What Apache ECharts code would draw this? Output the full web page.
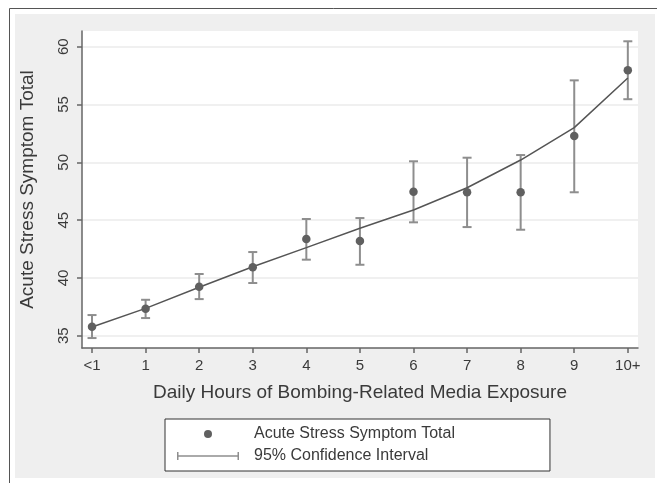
<!DOCTYPE html>
<html>
<head>
<meta charset="utf-8">
<script src="https://cdn.jsdelivr.net/npm/echarts@6/dist/echarts.min.js"></script>
<style>html,body{margin:0;padding:0;background:#fff}#c{width:657px;height:483px}</style>
</head>
<body>
<div id="c"></div>
<script>
const xLabels = ['<1', '1', '2', '3', '4', '5', '6', '7', '8', '9', '10+'];
const xPositions = [0, 1, 2, 3, 4, 5, 6, 7, 8, 9, 10];
const meanValues = [35.78, 37.34, 39.24, 40.92, 43.37, 43.19, 47.46, 47.41, 47.41, 52.27, 57.96];
const ciLow = [34.80, 36.53, 38.17, 39.56, 41.58, 41.14, 44.81, 44.40, 44.17, 47.41, 55.46];
const ciHigh = [36.79, 38.11, 40.34, 42.24, 45.10, 45.18, 50.09, 50.40, 50.63, 57.09, 60.47];
const fittedValues = [35.75, 37.37, 39.20, 40.97, 42.62, 44.30, 45.88, 47.80, 50.20, 53.00, 57.30];
const yTicks = [35, 40, 45, 50, 55, 60];

const FONT = 'Liberation Sans, Arial, sans-serif';
const axisColor = '#666666';
const textColor = '#3a3a3a';
const ciColor = '#8e8e8e';
const dotColor = '#606060';

const chart = echarts.init(document.getElementById('c'), null, {renderer: 'canvas'});
const option = {
  animation: false,
  backgroundColor: '#ffffff',
  textStyle: {fontFamily: FONT},
  graphic: [
    {type: 'rect', z: -100, silent: true, shape: {x: 9.5, y: 8.5, width: 700, height: 500},
     style: {fill: '#ffffff', stroke: '#555555', lineWidth: 1}},
    {type: 'rect', z: -99, silent: true, shape: {x: 15, y: 14, width: 640, height: 464},
     style: {fill: '#efefef'}}
  ],
  grid: {left: 82, top: 31, width: 556, height: 317, show: true, backgroundColor: '#ffffff', borderWidth: 0, containLabel: false},
  xAxis: {
    type: 'value', min: -0.187, max: 10.19,
    name: 'Daily Hours of Bombing-Related Media Exposure',
    nameLocation: 'middle', nameGap: 35,
    nameTextStyle: {fontSize: 19, color: textColor, fontFamily: FONT},
    axisLine: {show: true, onZero: false, lineStyle: {color: axisColor, width: 1.5}},
    axisTick: {show: true, length: 5, customValues: xPositions, lineStyle: {color: axisColor, width: 1.5}},
    axisLabel: {customValues: xPositions, margin: 10, fontSize: 15, color: textColor, fontFamily: FONT,
      formatter: v => xLabels[Math.round(v)]},
    splitLine: {show: false}
  },
  yAxis: {
    type: 'value', min: 33.94, max: 61.36,
    name: 'Acute Stress Symptom Total',
    nameLocation: 'middle', nameGap: 45, nameRotate: 90,
    nameTextStyle: {fontSize: 19, color: textColor, fontFamily: FONT},
    axisLine: {show: true, onZero: false, lineStyle: {color: axisColor, width: 1.5}},
    axisTick: {show: true, length: 5, customValues: yTicks, lineStyle: {color: axisColor, width: 1.5}},
    axisLabel: {customValues: yTicks, rotate: 90, margin: 11, fontSize: 15, color: textColor, fontFamily: FONT},
    splitLine: {show: true, lineStyle: {color: '#ebebeb', width: 1.5}}
  },
  legend: {
    left: 165, top: 419, orient: 'vertical',
    backgroundColor: '#ffffff', borderColor: '#333333', borderWidth: 1, borderRadius: 0,
    padding: [7, 95, 7, 12],
    itemWidth: 62, itemHeight: 8, itemGap: 6,
    selectedMode: false,
    textStyle: {fontSize: 16, color: textColor, fontFamily: FONT, lineHeight: 16, padding: [0, 0, 0, 10]},
    data: [
      {name: 'Acute Stress Symptom Total', icon: 'circle'},
      {name: '95% Confidence Interval', icon: 'path://M0,3.25h62v1.5h-62z M0,0h1.5v8h-1.5z M60.5,0h1.5v8h-1.5z'}
    ]
  },
  series: [
    {
      name: '95% Confidence Interval', type: 'custom', z: 2,
      itemStyle: {color: ciColor},
      data: xPositions.map((x, i) => [x, ciLow[i], ciHigh[i]]),
      encode: {x: 0, y: [1, 2]},
      renderItem: function (params, api) {
        const x = api.value(0);
        const top = api.coord([x, api.value(2)]);
        const bot = api.coord([x, api.value(1)]);
        const w = 4.5;
        const st = {stroke: ciColor, lineWidth: 2};
        return {type: 'group', children: [
          {type: 'line', shape: {x1: top[0], y1: top[1], x2: bot[0], y2: bot[1]}, style: st},
          {type: 'line', shape: {x1: top[0] - w, y1: top[1], x2: top[0] + w, y2: top[1]}, style: st},
          {type: 'line', shape: {x1: bot[0] - w, y1: bot[1], x2: bot[0] + w, y2: bot[1]}, style: st}
        ]};
      }
    },
    {
      name: 'Fitted', type: 'line', z: 3, symbol: 'none', smooth: false,
      lineStyle: {color: '#555555', width: 1.5},
      data: xPositions.map((x, i) => [x, fittedValues[i]])
    },
    {
      name: 'Acute Stress Symptom Total', type: 'scatter', z: 4,
      symbol: 'circle', symbolSize: 8.5,
      itemStyle: {color: dotColor, opacity: 1},
      data: xPositions.map((x, i) => [x, meanValues[i]])
    }
  ]
};
chart.setOption(option);
</script>
</body>
</html>
